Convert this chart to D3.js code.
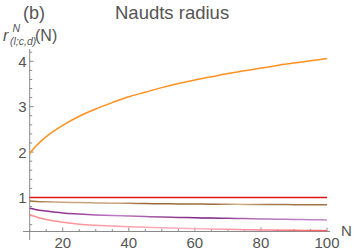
<!DOCTYPE html>
<html>
<head>
<meta charset="utf-8">
<script src="https://cdn.jsdelivr.net/npm/d3@7"></script>
<style>
  body { margin: 0; background: #fff; }
  svg text { font-family: "Liberation Sans", Arial, sans-serif; fill: #555; }
</style>
</head>
<body>
<script>
// N values sampled along the x axis
var nValues = [10, 12, 15, 20, 25, 30, 35, 40, 45, 50, 55, 60, 65, 70, 75, 80, 85, 90, 95, 100];

// curves
var orangeVals = [1.97, 2.14, 2.34, 2.59, 2.79, 2.95, 3.09, 3.22, 3.32, 3.42, 3.51, 3.59, 3.66, 3.73, 3.79, 3.85, 3.91, 3.96, 4.01, 4.06];
var redVals    = [1.0, 1.0, 1.0, 1.0, 1.0, 1.0, 1.0, 1.0, 1.0, 1.0, 1.0, 1.0, 1.0, 1.0, 1.0, 1.0, 1.0, 1.0, 1.0, 1.0];
var brownVals  = [0.92, 0.912, 0.904, 0.895, 0.887, 0.88, 0.875, 0.87, 0.866, 0.862, 0.858, 0.855, 0.852, 0.849, 0.847, 0.845, 0.843, 0.842, 0.841, 0.84];
var purpleVals = [0.76, 0.73, 0.70, 0.658, 0.635, 0.615, 0.60, 0.59, 0.578, 0.568, 0.56, 0.553, 0.546, 0.54, 0.534, 0.528, 0.522, 0.516, 0.51, 0.505];
var pinkVals   = [0.62, 0.57, 0.515, 0.455, 0.412, 0.387, 0.37, 0.357, 0.345, 0.334, 0.323, 0.313, 0.305, 0.298, 0.291, 0.285, 0.28, 0.276, 0.272, 0.268];

var xTicks = [20, 40, 60, 80, 100];
var yTicks = [1, 2, 3, 4];

var width = 354, height = 252;

var svg = d3.select("body").append("svg")
    .attr("width", width).attr("height", height);

var xscale = d3.scaleLinear().domain([10, 100]).range([29.7, 327]);
var yscale = d3.scaleLinear().domain([0.25, 4.26]).range([231.5, 49.5]);

var defs = svg.append("defs");

// colour gradients along each curve
function gradient(id, stops)
{
  var g = defs.append("linearGradient").attr("id", id)
      .attr("gradientUnits", "userSpaceOnUse")
      .attr("x1", xscale(10)).attr("x2", xscale(100))
      .attr("y1", 0).attr("y2", 0);
  stops.forEach(function(s) {
    g.append("stop").attr("offset", s[0]).attr("stop-color", s[1]);
  });
}
gradient("gbrown", [[0, "#9a6a3a"], [0.08, "#c8a480"], [0.3, "#c8a480"], [0.38, "#9a6a3a"], [0.62, "#9a6a3a"], [0.7, "#d2b392"], [0.8, "#a87a4c"], [1, "#a27242"]]);
gradient("gpurple", [[0, "#8a2a8a"], [0.15, "#9a3a9a"], [0.3, "#c080c8"], [0.45, "#9a4a9a"], [0.6, "#7a1a7a"], [0.75, "#b070b8"], [1, "#c08ac8"]]);
gradient("gpink", [[0, "#ff8a8a"], [0.3, "#ffa0a8"], [0.55, "#ffb0c0"], [0.8, "#ff8090"], [1, "#f06060"]]);

// axes
var axisColor = "#8a8a8a";

var xaxis = svg.append("g").attr("class", "xaxis");
xaxis.append("line")
    .attr("x1", 23).attr("x2", 330)
    .attr("y1", yscale(0.25)).attr("y2", yscale(0.25))
    .attr("stroke", axisColor);
xaxis.selectAll(".minor").data(d3.range(10, 101, 5)).enter().append("line")
    .attr("x1", function(d) { return xscale(d); })
    .attr("x2", function(d) { return xscale(d); })
    .attr("y1", yscale(0.25))
    .attr("y2", function(d) { return yscale(0.25) - (d % 20 === 0 ? 4 : 2.5); })
    .attr("stroke", axisColor);
xaxis.selectAll("text").data(xTicks).enter().append("text")
    .attr("x", function(d) { return xscale(d); })
    .attr("y", 248)
    .attr("text-anchor", "middle")
    .style("font-size", "15px")
    .text(function(d) { return d; });

var yaxis = svg.append("g").attr("class", "yaxis");
yaxis.append("line")
    .attr("x1", xscale(10)).attr("x2", xscale(10))
    .attr("y1", 240).attr("y2", 49)
    .attr("stroke", axisColor);
yaxis.selectAll(".minor").data(d3.range(0.4, 4.21, 0.2)).enter().append("line")
    .attr("x1", xscale(10))
    .attr("x2", function(d) { return xscale(10) + (Math.abs(d - Math.round(d)) < 0.01 ? 4 : 2.5); })
    .attr("y1", function(d) { return yscale(d); })
    .attr("y2", function(d) { return yscale(d); })
    .attr("stroke", axisColor);
yaxis.selectAll("text").data(yTicks).enter().append("text")
    .attr("x", 26.5)
    .attr("y", function(d) { return yscale(d) + 5.5; })
    .attr("text-anchor", "end")
    .style("font-size", "15px")
    .text(function(d) { return d; });

// curves
var line = d3.line()
    .x(function(d, i) { return xscale(nValues[i]); })
    .y(function(d) { return yscale(d); })
    .curve(d3.curveMonotoneX);

var series = [
  { vals: redVals, color: "#e01414" },
  { vals: brownVals, color: "url(#gbrown)" },
  { vals: purpleVals, color: "url(#gpurple)" },
  { vals: pinkVals, color: "url(#gpink)" },
  { vals: orangeVals, color: "#ff9020" }
];

svg.selectAll(".curve").data(series).enter().append("path")
    .attr("class", "curve")
    .attr("d", function(s) { return line(s.vals); })
    .attr("fill", "none")
    .attr("stroke", function(s) { return s.color; })
    .attr("stroke-width", 1.5);

// labels
svg.append("text").attr("x", 23).attr("y", 19).style("font-size", "18px").text("(b)");
svg.append("text").attr("x", 115).attr("y", 18.5).style("font-size", "18.5px").text("Naudts radius");
svg.append("text").attr("x", 341).attr("y", 236).style("font-size", "15px").text("N");

var ylab = svg.append("text").attr("x", 3).attr("y", 41).style("font-size", "16px");
ylab.append("tspan").style("font-style", "italic").text("r");
ylab.append("tspan").attr("x", 12.5).attr("y", 32).style("font-size", "10.5px").style("font-style", "italic").text("N");
ylab.append("tspan").attr("x", 10).attr("y", 45).style("font-size", "10.5px").style("font-style", "italic").text("(l;c,d)");
ylab.append("tspan").attr("x", 35).attr("y", 41).text("(N)");
</script>
</body>
</html>
